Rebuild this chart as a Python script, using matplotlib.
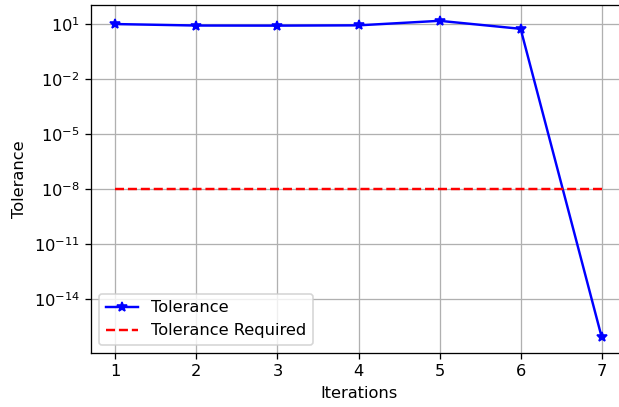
import matplotlib
matplotlib.use("Agg")
import matplotlib.pyplot as plt

# Convergence history of the solver
iterations = [1, 2, 3, 4, 5, 6, 7]
tolerance = [10.0, 8.3, 8.2, 8.5, 15.0, 5.5, 8.7e-17]
tolerance_required = 1e-8

W, H, DPI = 619, 407, 117
fig = plt.figure(figsize=(W / DPI, H / DPI), dpi=DPI)
ax = fig.add_axes([91 / W, 1 - 353 / H, 535 / W, 348 / H])

ax.semilogy(iterations, tolerance, "b-*", linewidth=1.5, markersize=6,
            label="Tolerance")
ax.semilogy([iterations[0], iterations[-1]],
            [tolerance_required, tolerance_required], "r--",
            linewidth=1.5, label="Tolerance Required")

ax.set_yticks([1e1, 1e-2, 1e-5, 1e-8, 1e-11, 1e-14])
ax.minorticks_off()
ax.set_xticks(iterations)
ax.set_xlabel("Iterations")
ax.set_ylabel("Tolerance")
ax.grid(True)
ax.legend(loc="lower left")

fig.savefig("out.png", dpi=DPI)
